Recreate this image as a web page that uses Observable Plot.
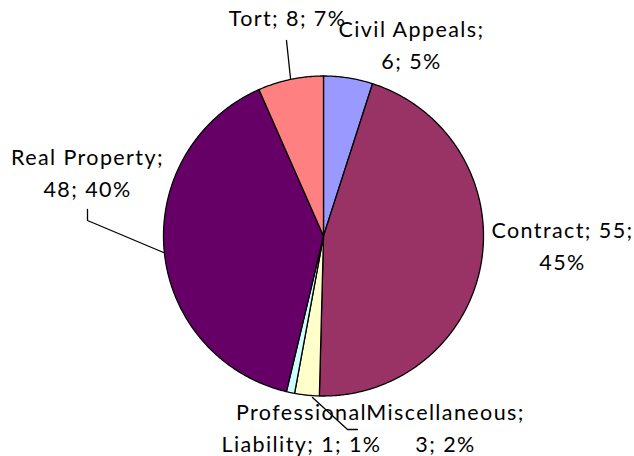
<!DOCTYPE html>
<html>
<head>
<meta charset="utf-8">
<script src="https://cdn.jsdelivr.net/npm/d3@7"></script>
<script src="https://cdn.jsdelivr.net/npm/@observablehq/plot@0.6"></script>
<style>
  html, body { margin: 0; padding: 0; background: #fff; }
</style>
</head>
<body>
<div id="chart"></div>
<script>
// ---- data ----
const categories = ["Civil Appeals", "Contract", "Miscellaneous", "Professional Liability", "Real Property", "Tort"];
const values = [6, 55, 3, 1, 48, 8];
const percents = ["5%", "45%", "2%", "1%", "40%", "7%"];
const labelTexts = ["Civil Appeals;\n6; 5%", "Contract; 55;\n45%", "Miscellaneous;\n3; 2%", "Professional\nLiability; 1; 1%", "Real Property;\n48; 40%", "Tort; 8; 7%"];
const colors = ["#9999FF", "#993366", "#FFFFCC", "#CCFFFF", "#660066", "#FF8080"];

// ---- layout (pixel space) ----
const W = 634, H = 456;
const cx = 323, cy = 235.5, R = 160;
const labelPos = [[411, 42], [562, 243], [445, 425], [301, 425.5], [87, 170], [287, 15.5]];
const leaders = [
  {id: "Tort", pts: [[286, 40], [290, 78]]},
  {id: "Real", pts: [[87, 209], [87, 220], [163, 252]]},
  {id: "Prof", pts: [[312, 397], [347, 429], [357, 429]]}
];

const arcs = d3.pie().sort(null).value(d => d.value).startAngle(0).endAngle(2 * Math.PI)(
  categories.map((c, i) => ({cat: c, value: values[i]}))
);

const polyPts = [];
arcs.forEach(a => {
  polyPts.push({cat: a.data.cat, x: cx, y: cy});
  const n = Math.max(2, Math.ceil((a.endAngle - a.startAngle) / (Math.PI / 360)));
  for (let k = 0; k <= n; k++) {
    const t = a.startAngle + (a.endAngle - a.startAngle) * k / n;
    polyPts.push({cat: a.data.cat, x: cx + R * Math.sin(t), y: cy - R * Math.cos(t)});
  }
});

const labels = categories.map((c, i) => ({cat: c, text: labelTexts[i], x: labelPos[i][0], y: labelPos[i][1]}));
const leaderPts = leaders.flatMap(l => l.pts.map(p => ({id: l.id, x: p[0], y: p[1]})));

const chart = Plot.plot({
  width: W,
  height: H,
  margin: 0,
  x: {type: "linear", domain: [0, W], range: [0, W], axis: null},
  y: {type: "linear", domain: [0, H], range: [0, H], axis: null},
  color: {type: "ordinal", domain: categories, range: colors},
  style: {fontFamily: "Lato, sans-serif", background: "#fff", letterSpacing: "1.4px"},
  marks: [
    Plot.line(polyPts, {x: "x", y: "y", z: "cat", fill: "cat", stroke: "#000", strokeWidth: 1.3, curve: "linear-closed", strokeLinejoin: "round"}),
    Plot.line(leaderPts, {x: "x", y: "y", z: "id", stroke: "#000", strokeWidth: 1.3}),
    Plot.text(labels, {x: "x", y: "y", text: "text", fontSize: 21.5, fontWeight: 400, lineHeight: 1.5, textAnchor: "middle", lineAnchor: "middle", fill: "#000"})
  ]
});
document.getElementById("chart").appendChild(chart);
</script>
</body>
</html>
